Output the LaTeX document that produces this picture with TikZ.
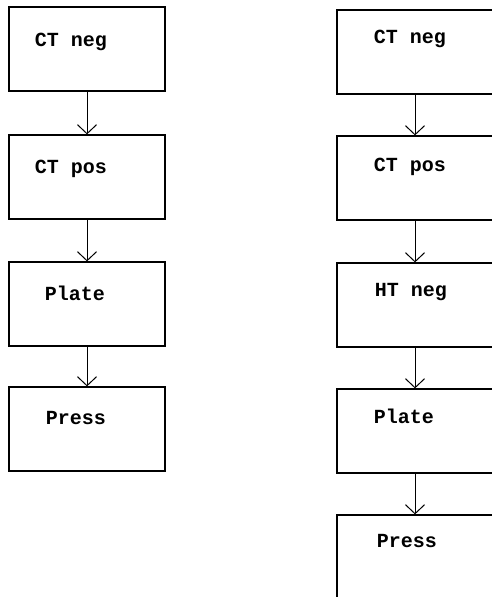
\documentclass[tikz,border=0pt]{standalone}
\usepackage{fontspec}
\setmonofont{Liberation Mono}
\usetikzlibrary{arrows.meta}

\tikzset{
  stagebox/.style={draw, line width=1.2pt, minimum width=156pt, minimum height=84pt, inner sep=0pt},
  stagetext/.style={anchor=mid west, inner sep=0pt, font=\fontsize{20}{22}\selectfont\ttfamily\bfseries},
}

\begin{document}
\begin{tikzpicture}[x=1pt, y=-1pt, >={Straight Barb[length=9pt,width=19pt]}, line width=1pt]
    \useasboundingbox (0,0) rectangle (492,597);

    % left chain
    \node[stagebox] (l1) at (87,49) {};
    \node[stagebox] (l2) at (87,177) {};
    \node[stagebox] (l3) at (87,304) {};
    \node[stagebox] (l4) at (87,429) {};
    \node[stagetext] (l1t) at ([shift={(26,38)}]l1.north west) {CT neg};
    \node[stagetext] (l2t) at ([shift={(26,37)}]l2.north west) {CT pos};
    \node[stagetext] (l3t) at ([shift={(36,37)}]l3.north west) {Plate};
    \node[stagetext] (l4t) at ([shift={(37,36)}]l4.north west) {Press};

    % right chain (runs off the page)
    \node[stagebox] (r1) at (415,52) {};
    \node[stagebox] (r2) at (415,178) {};
    \node[stagebox] (r3) at (415,305) {};
    \node[stagebox] (r4) at (415,431) {};
    \node[stagebox, minimum height=100pt] (r5) at (415,565) {};
    \node[stagetext] (r1t) at ([shift={(37,32)}]r1.north west) {CT neg};
    \node[stagetext] (r2t) at ([shift={(37,34)}]r2.north west) {CT pos};
    \node[stagetext] (r3t) at ([shift={(38,32)}]r3.north west) {HT neg};
    \node[stagetext] (r4t) at ([shift={(37,33)}]r4.north west) {Plate};
    \node[stagetext] (r5t) at ([shift={(40,31)}]r5.north west) {Press};

    % arrows
    \foreach \a/\b in {l1/l2, l2/l3, l3/l4, r1/r2, r2/r3, r3/r4, r4/r5} {
        \draw[->] (\a) -- (\b);
    }
\end{tikzpicture}
\end{document}
